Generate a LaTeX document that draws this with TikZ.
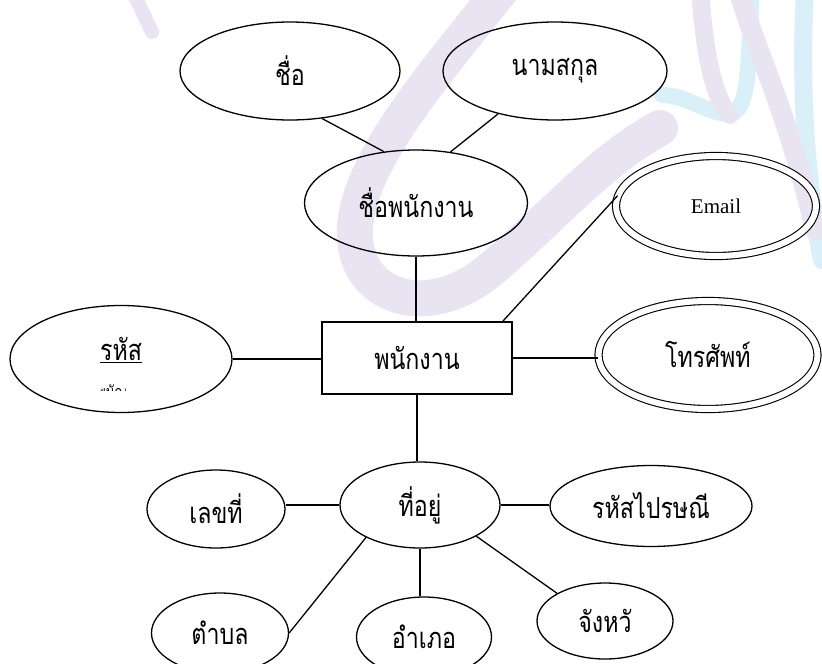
\documentclass[tikz,border=0pt]{standalone}
\usepackage{fontspec}
\setmainfont{Liberation Serif}
\newfontfamily\thai[Script=Thai,FakeStretch=0.8]{Loma}
\usepackage{tikz}
\usetikzlibrary{shapes.geometric,positioning}
\definecolor{wmpurple}{RGB}{233,228,242}
\definecolor{wmcyan}{RGB}{218,240,249}

\begin{document}
\begin{tikzpicture}[x=1pt, y=-1pt, thick,
   attr/.style={ellipse, draw=black, line width=1.3pt, inner sep=0pt, font=\thai\fontsize{29}{32}\selectfont},
   multi/.style={attr, double, double distance=6pt, line width=1.1pt},
   entity/.style={rectangle, draw=black, line width=2pt, inner sep=0pt, minimum width=190pt, minimum height=72pt, font=\thai\fontsize{29}{32}\selectfont}]
   \clip (0,0) rectangle (822,664);
   % watermark
   \begin{scope}[line cap=round, line width=36pt]
    \draw[wmpurple] (505,-15) .. controls (430,80) and (350,170) .. (355,240) .. controls (360,300) and (430,320) .. (490,270) .. controls (550,220) and (600,160) .. (660,128);
    \draw[wmpurple, line width=14pt] (132,-10) -- (152,32);
    \draw[wmcyan, line width=16pt] (752,-10) .. controls (748,60) and (750,100) .. (735,112) .. controls (715,120) and (690,95) .. (662,95);
    \draw[wmcyan, line width=18pt] (805,-10) .. controls (800,80) and (805,180) .. (822,260);
    \draw[wmpurple, line width=18pt] (700,-10) .. controls (705,60) and (715,100) .. (730,115);
    \draw[wmpurple, line width=20pt] (738,-10) .. controls (760,60) and (790,120) .. (815,230);
   \end{scope}
   % entity and attributes
   \node[entity] (emp) at (417,358) {พนักงาน};
   \node[attr, minimum width=223pt, minimum height=106pt] (ename) at (416,203) {ชื่อพนักงาน};
   \node[attr, minimum width=220pt, minimum height=98pt] (fname) at (290,71) {ชื่อ};
   \node[attr, minimum width=224pt, minimum height=98pt] (lname) at (555,71) {นามสกุล};
   \node[multi, minimum width=200pt, minimum height=100pt, font=\fontsize{21}{24}\selectfont] (email) at (716,206) {Email};
   \node[multi, minimum width=219pt, minimum height=108pt] (phone) at (708,355) {โทรศัพท์};
   \node[attr, minimum width=222pt, minimum height=107pt] (pk) at (121,359) {};
   \node[font=\thai\fontsize{29}{32}\selectfont] (pktext) at (121,350) {\underline{รหัส}};
   \begin{scope}
    \clip (100,383) rectangle (125,390);
    \node[font=\thai\fontsize{16}{18}\selectfont, anchor=base] (pkrest) at (121,397) {พนักงาน};
   \end{scope}
   \node[attr, minimum width=160pt, minimum height=86pt] (addr) at (420,505) {ที่อยู่};
   \node[attr, minimum width=138pt, minimum height=78pt] (no) at (216,509) {เลขที่};
   \node[attr, minimum width=202pt, minimum height=81pt] (zip) at (651,506) {รหัสไปรษณี};
   \node[attr, minimum width=137pt, minimum height=80pt] (tambon) at (220,633) {ตำบล};
   \node[attr, minimum width=135pt, minimum height=80pt] (amphoe) at (424,637) {อำเภอ};
   \node[attr, minimum width=136pt, minimum height=76pt] (province) at (605,621) {จังหวั};
   % connectors
   \begin{scope}[every edge/.style={draw=black, line width=1.3pt}]
    \draw (fname.304) edge (ename.122);
    \draw (lname.217) edge (ename.56);
    \draw (ename.south) edge (ename.south |- emp.north);
    \draw (email.174) edge ([xshift=-10pt]emp.north east);
    \draw (pk.east) edge (pk.east -| emp.west);
    \draw (emp.east) edge (emp.east -| phone.west);
    \draw (emp.south) edge (emp.south |- addr.north);
    \draw (addr.west) edge (addr.west -| no.east);
    \draw (addr.east) edge (addr.east -| zip.west);
    \draw (addr.211) edge (tambon.east);
    \draw (addr.south) edge (addr.south |- amphoe.north);
    \draw (addr.331) edge (province.150);
   \end{scope}
\end{tikzpicture}
\end{document}
